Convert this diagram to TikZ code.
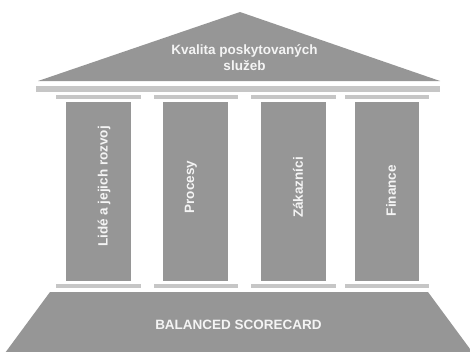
\documentclass[tikz,border=0pt]{standalone}
\usepackage{fontspec}
\setmainfont{Liberation Sans}
\begin{document}
\begin{tikzpicture}[x=1pt,y=-1pt,
  every node/.style={inner sep=0pt, outer sep=0pt},
  mainfill/.style={fill=maingray, draw=none},
  barfill/.style={fill=bargray, draw=none},
  lbl/.style={text=labelwhite, font=\bfseries\fontsize{13.5}{15.5}\selectfont},
  coltxt/.style={lbl, rotate=90}]
\definecolor{maingray}{HTML}{969696}
\definecolor{bargray}{HTML}{C6C6C6}
\definecolor{labelwhite}{HTML}{F4F4F4}
\useasboundingbox (0,0) rectangle (470,351);
% roof
\fill[maingray] (240,12) -- (440,81) -- (38,81) -- cycle;
\node[lbl, align=center] (roof) at (244.5,57.5) {Kvalita poskytovaných\\služeb};
% architrave
\fill[bargray] (36,86) rectangle (440,92);
% capitals
\fill[bargray] (56,95) rectangle (141,98.5);
\fill[bargray] (154,95) rectangle (238,98.5);
\fill[bargray] (251,95) rectangle (336,98.5);
\fill[bargray] (345,95) rectangle (429,98.5);
% columns
\fill[maingray] (66,102) rectangle (131,281);
\fill[maingray] (163,102) rectangle (228,281);
\fill[maingray] (261,102) rectangle (326,281);
\fill[maingray] (355,102) rectangle (419,281);
% column bases
\fill[bargray] (56,284) rectangle (141,287.5);
\fill[bargray] (154,284) rectangle (238,287.5);
\fill[bargray] (251,284) rectangle (336,287.5);
\fill[bargray] (345,284) rectangle (429,287.5);
% platform
\fill[maingray] (50,292) -- (428,292) -- (473,353) -- (5,353) -- cycle;
\node[lbl] (base) at (238.5,325) {BALANCED SCORECARD};
% column labels
\node[coltxt] (t1) at (104,186.5) {Lidé a jejich rozvoj};
\node[coltxt] (t2) at (191,187) {Procesy};
\node[coltxt] (t3) at (298,187.5) {Zákazníci};
\node[coltxt] (t4) at (391,190.5) {Finance};
\end{tikzpicture}
\end{document}
